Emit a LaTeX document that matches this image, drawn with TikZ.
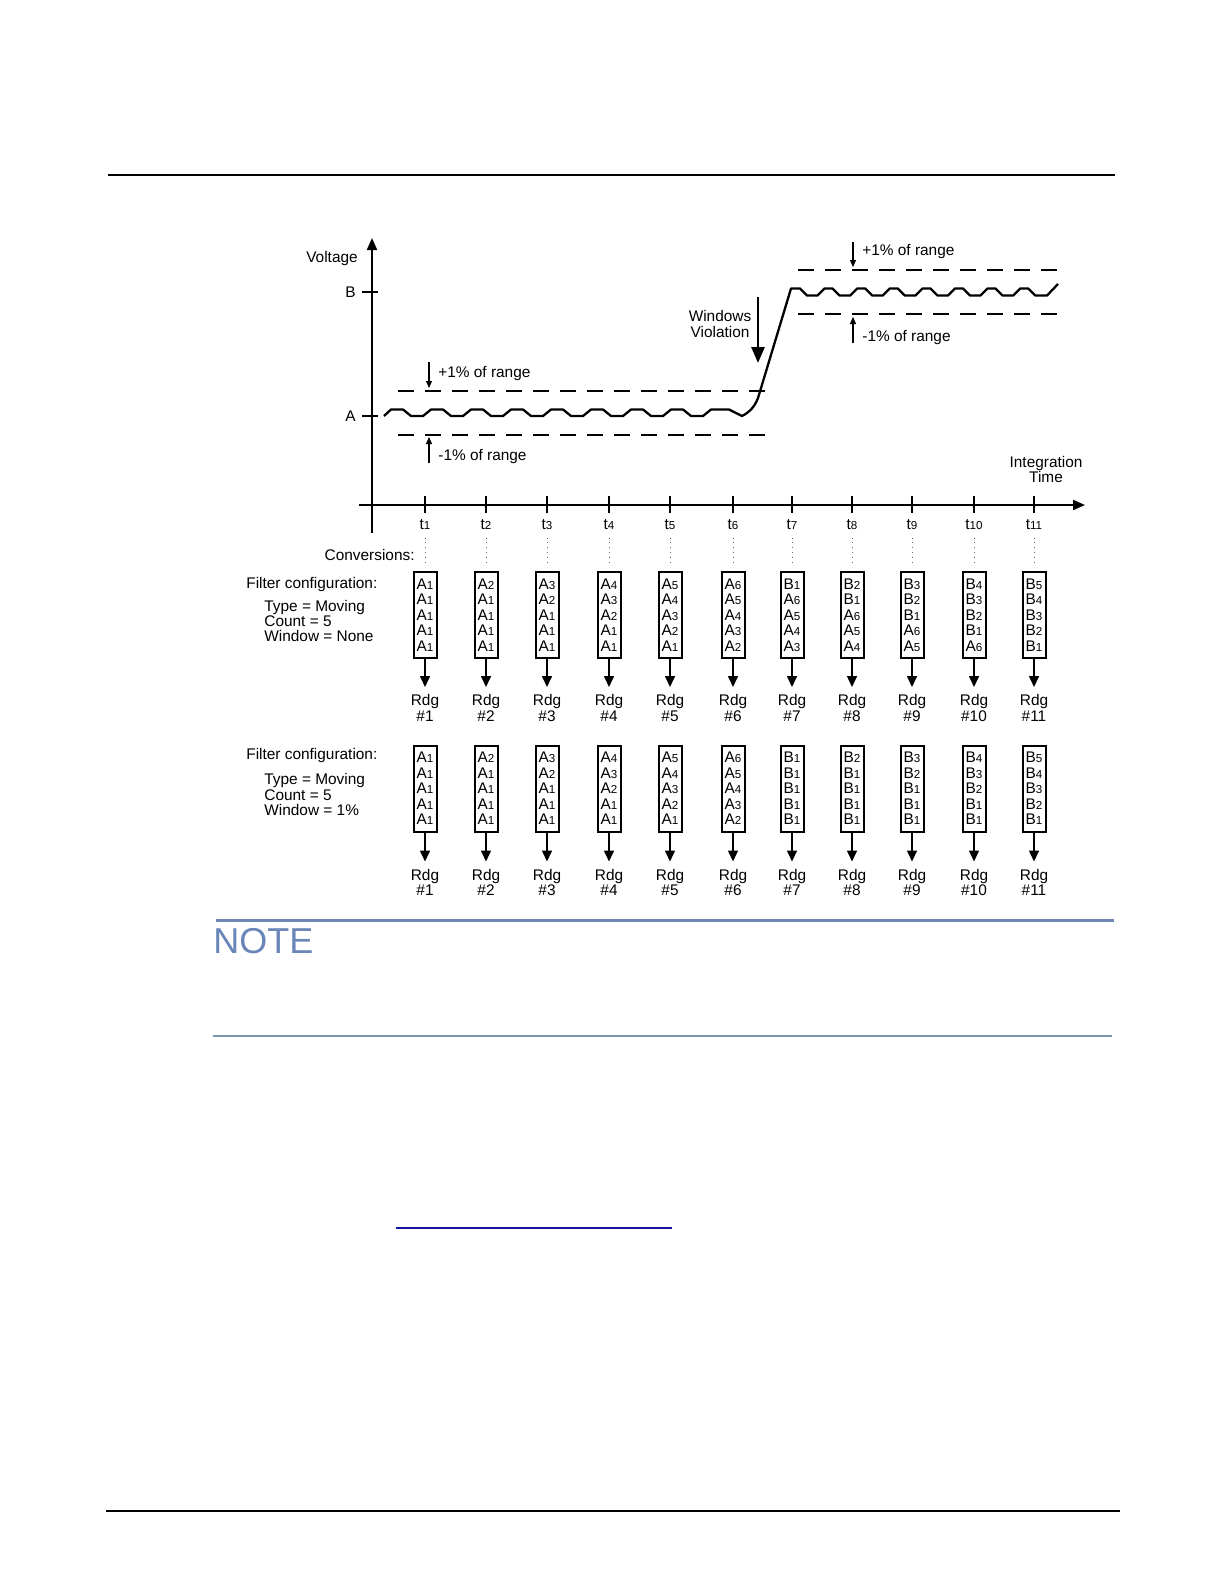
\documentclass[tikz,border=0pt]{standalone}
\usepackage{fontspec}
\setmainfont{Liberation Sans}
\usetikzlibrary{arrows.meta}
\definecolor{notecol}{HTML}{6A86B8}
\definecolor{notel}{HTML}{6F89B6}
\definecolor{grayl}{HTML}{8096AE}
\definecolor{linkc}{HTML}{1414A0}
\newcommand\dg[1]{{\fontsize{5.8}{6}\selectfont #1}}
\newcommand\cc[2]{#1\dg{#2}}
\newcommand\fiverows[5]{\expandafter\cc#1\\\expandafter\cc#2\\\expandafter\cc#3\\\expandafter\cc#4\\\expandafter\cc#5}
\begin{document}
\begin{tikzpicture}[x=0.5pt,y=-0.5pt,
  txt/.style={font=\fontsize{7.7}{9.24}\selectfont, inner sep=0pt},
  boxn/.style={draw, line width=1pt, minimum width=11.5pt, minimum height=43pt, inner sep=0pt, align=center, font=\fontsize{7.7}{7.75}\selectfont},
  rdg/.style={anchor=north, inner xsep=0pt, inner ysep=3.7pt, align=center, font=\fontsize{7.7}{7.6}\selectfont},
  axarr/.style={line width=1pt, -{Triangle[length=6pt,width=5pt]}},
  bigarr/.style={line width=1.4pt, -{Triangle[length=8pt,width=6.5pt]}},
  smarr/.style={line width=0.55pt, -{Triangle[length=3.5pt,width=3pt]}},
  rarr/.style={line width=0.8pt, -{Triangle[length=5.5pt,width=5pt]}},
  tickln/.style={line width=0.85pt},
  dashln/.style={line width=1pt, dash pattern=on 8pt off 5.5pt},
  wave/.style={line width=1.15pt, line join=round},
  dotl/.style={line width=0.4pt, dotted, black!60},
]
\useasboundingbox (0,0) rectangle (1224,1584);
\fill[white] (0,0) rectangle (1224,1584);

% page rules
\draw[line width=0.7pt] (108,175) -- (1115,175);
\draw[line width=1.1pt] (106,1511) -- (1120,1511);

% axes
\coordinate (yb) at (372,533);
\coordinate (yt) at (372,238);
\coordinate (xl) at (359,505);
\coordinate (xr) at (1085,505);
\draw[axarr] (yb) -- (yt);
\draw[axarr] (xl) -- (xr);
\draw[line width=1pt] (362,292) -- (378,292);
\draw[line width=1pt] (362,416) -- (378,416);
\node[txt, anchor=base] (volt) at (332,262) {Voltage};
\node[txt, anchor=base east] (lb) at (356,297.5) {B};
\node[txt, anchor=base east] (la) at (356,421) {A};
\node[txt, align=center, font=\fontsize{7.7}{7.75}\selectfont] (integ) at (1046,469.5) {Integration\\Time};

% dashed window lines
\draw[dashln] (398,391) -- (765,391);
\draw[dashln] (398,435) -- (765,435);
\draw[dashln] (798,270) -- (1057,270);
\draw[dashln] (798,314) -- (1057,314);

% signal
\draw[wave] (384,416) -- (391,409.5)
  \foreach \k in {0,...,7}{ -- ({403+40*\k},409.5) -- ({411+40*\k},416) -- ({423+40*\k},416) -- ({431+40*\k},409.5) }
  -- (729,409.5) -- (742,416)
  .. controls (750,412) and (755,406) .. (758,398) -- (791,288.5) -- (800,288.5)
  \foreach \k in {0,...,6}{ -- ({807+32.6*\k},295.5) -- ({817.6+32.6*\k},295.5) -- ({824.6+32.6*\k},288.5) -- ({832.6+32.6*\k},288.5) }
  -- (1035.2,295.5) -- (1047,295.5) -- (1058,284);

% +/-1% annotations
\coordinate (pa1) at (429,362); \coordinate (pa2) at (429,388);
\coordinate (ma1) at (429,463); \coordinate (ma2) at (429,437);
\coordinate (pb1) at (853,242); \coordinate (pb2) at (853,267);
\coordinate (mb1) at (853,343); \coordinate (mb2) at (853,317);
\draw[smarr] (pa1) -- (pa2);
\draw[smarr] (ma1) -- (ma2);
\draw[smarr] (pb1) -- (pb2);
\draw[smarr] (mb1) -- (mb2);
\node[txt, anchor=base west] (tpa) at (438,377) {+1\% of range};
\node[txt, anchor=base west] (tma) at (438,460) {-1\% of range};
\node[txt, anchor=base west] (tpb) at (862,255) {+1\% of range};
\node[txt, anchor=base west] (tmb) at (862,341.5) {-1\% of range};

% windows violation
\node[txt, align=center, font=\fontsize{7.7}{7.75}\selectfont] (wv) at (720,323.75) {Windows\\Violation};
\coordinate (wv1) at (758,297); \coordinate (wv2) at (758,363);
\draw[bigarr] (wv1) -- (wv2);

% ticks and labels
\foreach \x [count=\i] in {425,486,547,609,670,733,792,852,912,974,1034}{
  \draw[tickln] (\x,496) -- (\x,513);
  \node[txt, anchor=base] (tl\i) at (\x,529) {t\dg{\i}};
}
\node[txt, anchor=base east] (conv) at (415,560) {Conversions:};

% filter config 1
\node[txt, anchor=base west] (fc1) at (246,588) {Filter configuration:};
\node[txt, anchor=base west] (ty1) at (264,611) {Type = Moving};
\node[txt, anchor=base west] (co1) at (264,626.5) {Count = 5};
\node[txt, anchor=base west] (wi1) at (264,641.5) {Window = None};

\foreach \x/\pa/\pb/\pc/\pd/\pe [count=\i] in {
  425/A1/A1/A1/A1/A1, 486/A2/A1/A1/A1/A1, 547/A3/A2/A1/A1/A1, 609/A4/A3/A2/A1/A1,
  670/A5/A4/A3/A2/A1, 733/A6/A5/A4/A3/A2, 792/B1/A6/A5/A4/A3, 852/B2/B1/A6/A5/A4,
  912/B3/B2/B1/A6/A5, 974/B4/B3/B2/B1/A6, 1034/B5/B4/B3/B2/B1}{
  \node[boxn] (ba\i) at (\x,615) {\fiverows\pa\pb\pc\pd\pe};
  \node[rdg] (ra\i) at (\x,687) {Rdg\\\#\i};
  \draw[rarr] (ba\i.south) -- (ra\i.north);
  \draw[dotl] ([yshift=-4pt]tl\i.south) -- ([yshift=4.5pt]ba\i.north);
}

% filter config 2
\node[txt, anchor=base west] (fc2) at (246,759) {Filter configuration:};
\node[txt, anchor=base west] (ty2) at (264,784) {Type = Moving};
\node[txt, anchor=base west] (co2) at (264,800) {Count = 5};
\node[txt, anchor=base west] (wi2) at (264,815) {Window = 1\%};

\foreach \x/\pa/\pb/\pc/\pd/\pe [count=\i] in {
  425/A1/A1/A1/A1/A1, 486/A2/A1/A1/A1/A1, 547/A3/A2/A1/A1/A1, 609/A4/A3/A2/A1/A1,
  670/A5/A4/A3/A2/A1, 733/A6/A5/A4/A3/A2, 792/B1/B1/B1/B1/B1, 852/B2/B1/B1/B1/B1,
  912/B3/B2/B1/B1/B1, 974/B4/B3/B2/B1/B1, 1034/B5/B4/B3/B2/B1}{
  \node[boxn] (bb\i) at (\x,788.5) {\fiverows\pa\pb\pc\pd\pe};
  \node[rdg] (rb\i) at (\x,861.5) {Rdg\\\#\i};
  \draw[rarr] (bb\i.south) -- (rb\i.north);
}

% NOTE block
\draw[notel, line width=1.5pt] (216,920) -- (1114,920);
\node[anchor=base west, inner sep=0pt, font=\fontsize{18}{20}\selectfont, text=notecol] (note) at (213,953) {NOTE};
\draw[grayl, line width=0.65pt] (213,1036) -- (1112,1036);
\draw[linkc, line width=1.1pt] (396,1228) -- (672,1228);
\end{tikzpicture}
\end{document}
